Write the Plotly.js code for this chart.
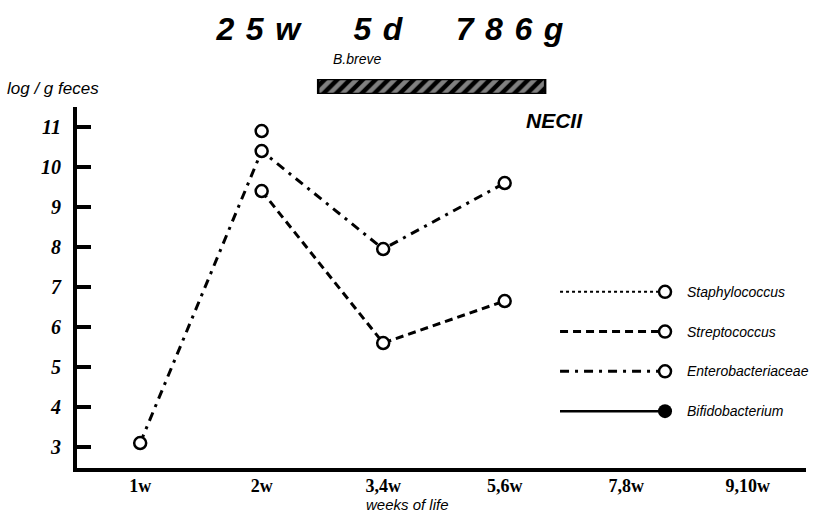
<!DOCTYPE html>
<html><head><meta charset="utf-8">
<script src="https://cdn.plot.ly/plotly-3.0.1.min.js"></script>
<style>body{margin:0;background:#fff}#c{width:814px;height:523px}</style>
</head><body><div id="c"></div>
<script>
const weeks = ['1w','2w','3,4w','5,6w','7,8w','9,10w'];
const staphX = ['2w'];
const staphY = [10.9];
const strepX = ['2w','3,4w','5,6w'];
const strepY = [9.4, 5.6, 6.65];
const enteroX = ['1w','2w','3,4w','5,6w'];
const enteroY = [3.1, 10.4, 7.95, 9.6];
const bifidoX = [];
const bifidoY = [];
const seriesNames = ['Staphylococcus','Streptococcus','Enterobacteriaceae','Bifidobacterium'];
const brevePeriod = [1.465, 3.333]; // in week-category index units
const yTicks = [3,4,5,6,7,8,9,10,11];
const titleGroups = [['2','5','w'],['5','d'],['7','8','6','g']];

const dashes = ['dot','8px,5px','9px,6px,3px,6px','solid'];
const widths = [2,3,3,2.5];
const filled = [false,false,false,true];

const xs=[staphX,strepX,enteroX,bifidoX], ys=[staphY,strepY,enteroY,bifidoY];
const traces = [];
for (let i=0;i<4;i++){
  traces.push({type:'scatter', mode:'lines+markers', x:xs[i], y:ys[i], name:seriesNames[i],
    line:{color:'#000', width:widths[i], dash:dashes[i]},
    marker: filled[i] ? {symbol:'circle', size:13, color:'#000'} : {symbol:'circle', size:12, color:'#fff', line:{width:2.5,color:'#000'}},
    cliponaxis:false, showlegend:false});
}
// B.breve hatched period bar
traces.push({type:'bar', orientation:'h', xaxis:'x2', yaxis:'y2', y:[0], x:[brevePeriod[1]-brevePeriod[0]], base:[brevePeriod[0]], width:[1],
  marker:{color:'#000', line:{color:'#000', width:2.5}, pattern:{shape:'/', fgcolor:'#fff', bgcolor:'#000', size:9, solidity:0.5, fillmode:'overlay'}},
  showlegend:false, hoverinfo:'skip'});
// custom legend samples
const ann = [];
const rows = [0,1,2,3];
for (let i=0;i<4;i++){
  traces.push({type:'scatter', mode:'lines', xaxis:'x3', yaxis:'y3', x:[i===3?-0.05:0,1], y:[rows[i],rows[i]],
    line:{color:'#000', width:widths[i], dash:dashes[i]}, showlegend:false, hoverinfo:'skip'});
  traces.push({type:'scatter', mode:'markers', xaxis:'x3', yaxis:'y3', x:[1], y:[rows[i]],
    marker: filled[i] ? {symbol:'circle', size:14, color:'#000'} : {symbol:'circle', size:12, color:'#fff', line:{width:2.5,color:'#000'}},
    showlegend:false, hoverinfo:'skip', cliponaxis:false});
  ann.push({xref:'paper', yref:'y3', x:0.834, y:rows[i], xanchor:'left', yanchor:'middle', showarrow:false,
    text:'<i>'+seriesNames[i]+'</i>', font:{family:'Liberation Sans, Arial', size:14, color:'#000'}});
}
ann.push({xref:'paper', yref:'paper', x:-0.099, y:0.909, xanchor:'left', yanchor:'middle', showarrow:false,
  text:'<i>log / g feces</i>', font:{family:'Liberation Sans, Arial', size:17, color:'#000'}});
ann.push({xref:'paper', yref:'paper', x:0.655, y:0.832, xanchor:'center', yanchor:'middle', showarrow:false,
  text:'<b><i>NECII</i></b>', font:{family:'Liberation Sans, Arial', size:21, color:'#000'}});
ann.push({xref:'paper', yref:'paper', x:0.384, y:0.978, xanchor:'center', yanchor:'middle', showarrow:false,
  text:'<i>B.breve</i>', font:{family:'Liberation Sans, Arial', size:14, color:'#000'}});
ann.push({xref:'paper', yref:'paper', x:0.454, y:-0.0885, xanchor:'center', yanchor:'middle', showarrow:false,
  text:'<i>weeks of life</i>', font:{family:'Liberation Sans, Arial', size:15, color:'#000'}});

const titleText = titleGroups.map(g => g.join(' \u200A')).join('      ');

const layout = {
  width:814, height:523, paper_bgcolor:'#fff', plot_bgcolor:'#fff',
  margin:{l:77, r:8, t:50, b:55},
  title:{text:'<b><i>'+titleText+'</i></b>', x:0.479, xanchor:'center', y:0.945, yanchor:'middle',
    font:{family:'Liberation Sans, Arial', size:32, style:'italic', weight:'bold', color:'#000'}},
  xaxis:{type:'category', categoryorder:'array', categoryarray:weeks, tickvals:weeks, range:[-0.52,5.48],
    showline:true, linewidth:4, linecolor:'#000', ticks:'', showgrid:false, zeroline:false, ticklabelstandoff:-2,
    tickfont:{family:'Liberation Serif, Times New Roman', size:18, weight:'bold', color:'#000'}, fixedrange:true},
  yaxis:{domain:[0,0.8636], range:[2.475,11.5], tickvals:yTicks, ticktext:yTicks.map(v=>'<b><i>'+v+'</i></b>'),
    showline:true, linewidth:4, linecolor:'#000',
    ticks:'inside', ticklen:14, tickwidth:4, tickcolor:'#000', showgrid:false, zeroline:false, ticklabelstandoff:8,
    tickfont:{family:'Liberation Serif, Times New Roman', size:20, color:'#000'}},
  xaxis2:{anchor:'y2', range:[-0.52,5.48], visible:false, fixedrange:true},
  yaxis2:{domain:[0.8947,0.9306], range:[-0.5,0.5], visible:false, fixedrange:true},
  xaxis3:{anchor:'y3', domain:[0.6626,0.8066], range:[0,1], visible:false},
  yaxis3:{domain:[0.0885,0.469], range:[3.5,-0.5], visible:false},
  annotations:ann, showlegend:false, bargap:0
};
Plotly.newPlot('c', traces, layout, {staticPlot:true});
</script></body></html>
